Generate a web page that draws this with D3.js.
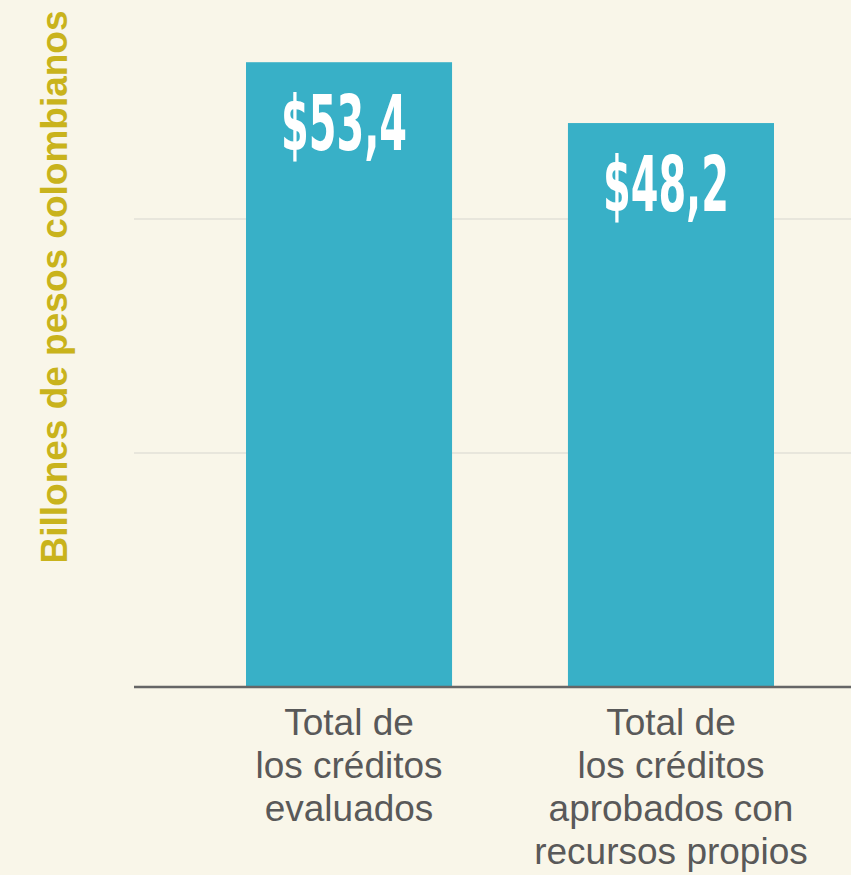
<!DOCTYPE html>
<html>
<head>
<meta charset="utf-8">
<script src="https://cdn.jsdelivr.net/npm/d3@7"></script>
<style>
  html, body { margin: 0; padding: 0; background: #f9f6e9; }
  svg { display: block; }
  .grid line { stroke: #e2e0d7; stroke-width: 1.5; }
  .baseline { stroke: #666; stroke-width: 2.5; }
  .bar { fill: #38b0c7; }
  .value { fill: #fff; font-family: "Liberation Sans Narrow", "DejaVu Sans Condensed", "Arial Narrow", sans-serif; font-weight: bold; font-stretch: condensed; }
  .cat { fill: #595959; font-family: "Liberation Sans", Arial, sans-serif; font-size: 37px; }
  .ytitle { fill: #c9b31c; font-family: "Liberation Sans", Arial, sans-serif; font-weight: bold; font-size: 37px; }
</style>
</head>
<body>
<svg></svg>
<script>
//begin: data
var categories = ["evaluados", "propios"];
var values = [53.4, 48.2];
var valueLabels = ["$53,4", "$48,2"];
var categoryLines = [
  ["Total de", "los créditos", "evaluados"],
  ["Total de", "los créditos", "aprobados con", "recursos propios"]
];
var gridTicks = [20, 40];
var yTitle = "Billones de pesos colombianos";
//end: data

//begin: layout conf.
var svgWidth = 851,
    svgHeight = 875,
    plotLeft = 134,
    plotRight = 851,
    baseY = 687,
    pxPerUnit = 11.7;
//end: layout conf.

var svg = d3.select("svg")
    .attr("width", svgWidth)
    .attr("height", svgHeight);

var x = d3.scaleBand()
    .domain(categories)
    .range([246, 774])
    .paddingInner(0.36)
    .paddingOuter(0);

var y = d3.scaleLinear()
    .domain([0, baseY / pxPerUnit])
    .range([baseY, 0]);

function drawGrid() {
  svg.append("g")
      .classed("grid", true)
      .selectAll("line")
      .data(gridTicks)
      .enter()
        .append("line")
          .attr("x1", plotLeft)
          .attr("x2", plotRight)
          .attr("y1", function(d){ return y(d); })
          .attr("y2", function(d){ return y(d); });
}

function drawBars() {
  svg.append("g")
      .selectAll(".bar")
      .data(values)
      .enter()
        .append("rect")
          .classed("bar", true)
          .attr("x", function(d, i){ return x(categories[i]); })
          .attr("width", x.bandwidth())
          .attr("y", function(d){ return y(d); })
          .attr("height", function(d){ return y(0) - y(d); });

  svg.append("g")
      .selectAll(".value")
      .data(values)
      .enter()
        .append("text")
          .classed("value", true)
          .attr("x", function(d, i){ return x(categories[i]) + x.bandwidth()/2 - 5; })
          .attr("y", function(d){ return y(d) + 88; })
          .attr("text-anchor", "middle")
          .attr("font-size", 76)
          .attr("textLength", 126)
          .attr("lengthAdjust", "spacingAndGlyphs")
          .text(function(d, i){ return valueLabels[i]; });

  svg.append("line")
      .classed("baseline", true)
      .attr("x1", plotLeft)
      .attr("x2", plotRight)
      .attr("y1", y(0))
      .attr("y2", y(0));
}

function drawCategories() {
  var labels = svg.append("g")
      .selectAll(".cat")
      .data(categories)
      .enter()
        .append("text")
          .classed("cat", true)
          .attr("text-anchor", "middle")
          .attr("transform", function(d){ return "translate(" + [x(d) + x.bandwidth()/2, 735] + ")"; });

  labels.selectAll("tspan")
      .data(function(d, i){ return categoryLines[i]; })
      .enter()
        .append("tspan")
          .attr("x", 0)
          .attr("y", function(d, i){ return i * 43; })
          .text(function(d){ return d; });
}

function drawTitle() {
  svg.append("text")
      .classed("ytitle", true)
      .attr("text-anchor", "middle")
      .attr("transform", "translate(" + [67, 287] + ") rotate(-90)")
      .text(yTitle);
}

drawGrid();
drawBars();
drawCategories();
drawTitle();
</script>
</body>
</html>
